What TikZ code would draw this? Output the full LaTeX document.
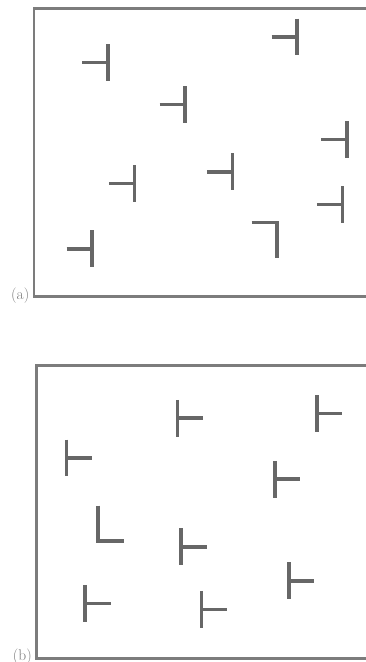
\documentclass[tikz,border=0pt]{standalone}
\usepackage{tikz}
\definecolor{ink}{HTML}{676767}
\definecolor{frame}{HTML}{7c7c7c}
% dislocation symbols: bar at (x,y), stem to the left / to the right
\newcommand{\dleft}[2]{\draw[disl] (#1,#2-18.4) -- (#1,#2+18.4); \draw[disl] (#1-25.5,#2) -- (#1,#2);}
\newcommand{\dright}[2]{\draw[disl] (#1,#2-18.4) -- (#1,#2+18.4); \draw[disl] (#1,#2) -- (#1+25.5,#2);}

\begin{document}
\begin{tikzpicture}[x=1pt, y=-1pt,
  disl/.style={ink, line width=3.6pt},
  panel/.style={frame, line width=2.2pt},
  tag/.style={frame, anchor=east, inner sep=0pt, font=\fontsize{15.5}{17}\selectfont}]
  \useasboundingbox (0,0) rectangle (366,662);
  \clip (0,0) rectangle (366,662);
  % panel (a)
  \draw[panel] (380,8.5) -- (34,8.5) -- (34,296.5) -- (380,296.5);
  \node[tag] (labela) at (29.5,296) {(a)};
  \dleft{107.7}{62.5}
  \dleft{297}{37}
  \dleft{185}{104.5}
  \dleft{346.7}{139.3}
  \dleft{134.3}{183.5}
  \dleft{232.3}{171.8}
  \dleft{342.3}{204.5}
  \dleft{92}{248.8}
  \draw[disl] (251.7,222.3) -- (276.7,222.3) -- (276.7,257.7);
  % panel (b)
  \draw[panel] (380,365.5) -- (36.5,365.5) -- (36.5,658.5) -- (380,658.5);
  \node[tag] (labelb) at (32,656.5) {(b)};
  \dright{177.3}{418.2}
  \dright{316.7}{413.5}
  \dright{66.3}{458}
  \dright{274.7}{479.2}
  \dright{181}{546.7}
  \dright{288.7}{580.8}
  \dright{85}{603.3}
  \dright{201.3}{609.3}
  \draw[disl] (97.7,505.7) -- (97.7,540.8) -- (123.7,540.8);
\end{tikzpicture}
\end{document}
